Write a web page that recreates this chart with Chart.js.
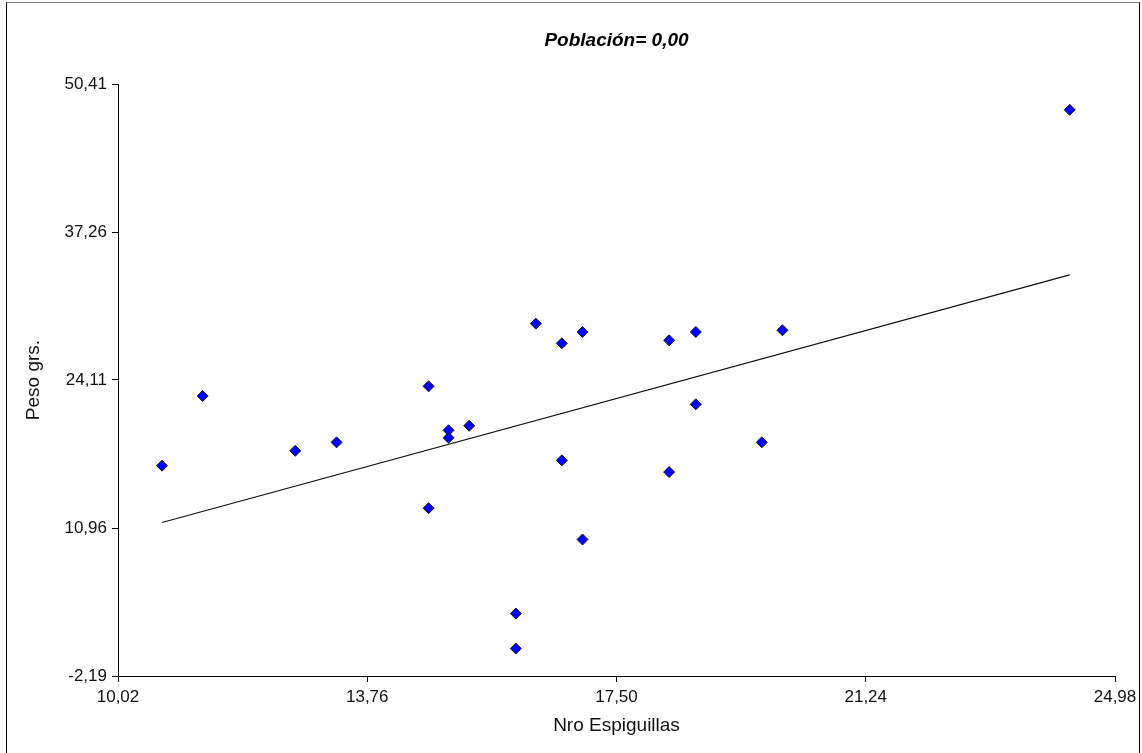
<!DOCTYPE html>
<html>
<head>
<meta charset="utf-8">
<title>Población= 0,00</title>
<script src="https://cdn.jsdelivr.net/npm/chart.js@4.4.1/dist/chart.umd.min.js"></script>
<style>
  html, body { margin: 0; padding: 0; background: #fff; overflow: hidden; }
  #wrap { position: relative; width: 1142px; height: 753px; }
  #frame {
    position: absolute; left: 6px; top: 2px; width: 1132px; height: 800px;
    border-top: 1px solid #808080; border-left: 1px solid #000; border-right: 1px solid #000;
    pointer-events: none;
  }
</style>
</head>
<body>
<div id="wrap">
  <canvas id="chart" width="1142" height="753"></canvas>
  <div id="frame"></div>
</div>
<script>
// ===== Data =====
const titleText = 'Población= 0,00';
const xTitle = 'Nro Espiguillas';
const yTitle = 'Peso grs.';

const xTicks = [10.02, 13.76, 17.50, 21.24, 24.98];
const yTicks = [-2.19, 10.96, 24.11, 37.26, 50.41];

const espiguillas = [10.68, 11.29, 12.68, 13.30, 14.68, 14.68, 14.98, 14.98, 15.29, 15.99, 15.99, 16.29,
  16.68, 16.68, 16.99, 16.99, 18.29, 18.29, 18.69, 18.69, 19.68, 19.99, 24.30];
const peso = [16.50, 22.69, 17.82, 18.57, 23.55, 12.72, 19.64, 18.98, 20.04, 3.36, 0.25, 29.12,
  27.37, 16.97, 28.38, 9.94, 27.64, 15.93, 28.38, 21.95, 18.57, 28.53, 48.12];

// fitted line, two ends as drawn
const fitX = [10.68, 24.30];
const fitY = [11.45, 33.45];

const FONT = '"Liberation Sans", Arial, sans-serif';
const fmt = (v) => v.toFixed(2).replace('.', ',');

// title centred over the plot area
const titlePlugin = {
  id: 'plotTitle',
  afterDraw(chart) {
    const { ctx, chartArea } = chart;
    ctx.save();
    ctx.fillStyle = '#000';
    ctx.font = 'italic bold 19px ' + FONT;
    ctx.textAlign = 'center';
    ctx.textBaseline = 'alphabetic';
    ctx.fillText(titleText, (chartArea.left + chartArea.right) / 2, 46);
    ctx.restore();
  }
};

const axisCommon = {
  type: 'linear',
  border: { display: true, color: '#000', width: 1 },
  grid: { drawOnChartArea: false, drawTicks: true, tickLength: 6, color: '#000' }
};

new Chart(document.getElementById('chart'), {
  type: 'scatter',
  data: {
    datasets: [
      {
        label: 'Peso',
        data: espiguillas.map((x, i) => ({ x, y: peso[i] })),
        pointStyle: 'rectRot',
        pointRadius: 5.5,
        pointHoverRadius: 5.5,
        backgroundColor: '#0000ff',
        borderColor: '#1a1a1a',
        borderWidth: 1
      },
      {
        label: 'Ajuste',
        data: fitX.map((x, i) => ({ x, y: fitY[i] })),
        showLine: true,
        pointRadius: 0,
        borderColor: '#111',
        borderWidth: 1.2,
        fill: false
      }
    ]
  },
  options: {
    responsive: false,
    animation: false,
    layout: { padding: { top: 84, right: 27, left: 0, bottom: 0 } },
    scales: {
      x: {
        ...axisCommon,
        min: xTicks[0],
        max: xTicks[xTicks.length - 1],
        afterBuildTicks: (axis) => { axis.ticks = xTicks.map(v => ({ value: v })); },
        afterFit: (axis) => { axis.height = 77; },
        ticks: {
          autoSkip: false, maxRotation: 0, padding: 5, color: '#111',
          font: { family: FONT, size: 17 },
          callback: (v) => fmt(v)
        },
        title: {
          display: true, text: xTitle, color: '#111',
          font: { family: FONT, size: 19 }, padding: { top: 0, bottom: 16 }
        }
      },
      y: {
        ...axisCommon,
        min: yTicks[0],
        max: yTicks[yTicks.length - 1],
        afterBuildTicks: (axis) => { axis.ticks = yTicks.map(v => ({ value: v })); },
        afterFit: (axis) => { axis.width = 118; },
        ticks: {
          autoSkip: false, padding: 5, color: '#111',
          font: { family: FONT, size: 17 },
          callback: (v) => fmt(v)
        },
        title: {
          display: true, text: yTitle, color: '#111',
          font: { family: FONT, size: 19 }, padding: { top: 22, bottom: 0 }
        }
      }
    },
    plugins: {
      legend: { display: false },
      tooltip: { enabled: false },
      title: { display: false }
    }
  },
  plugins: [titlePlugin]
});
</script>
</body>
</html>
